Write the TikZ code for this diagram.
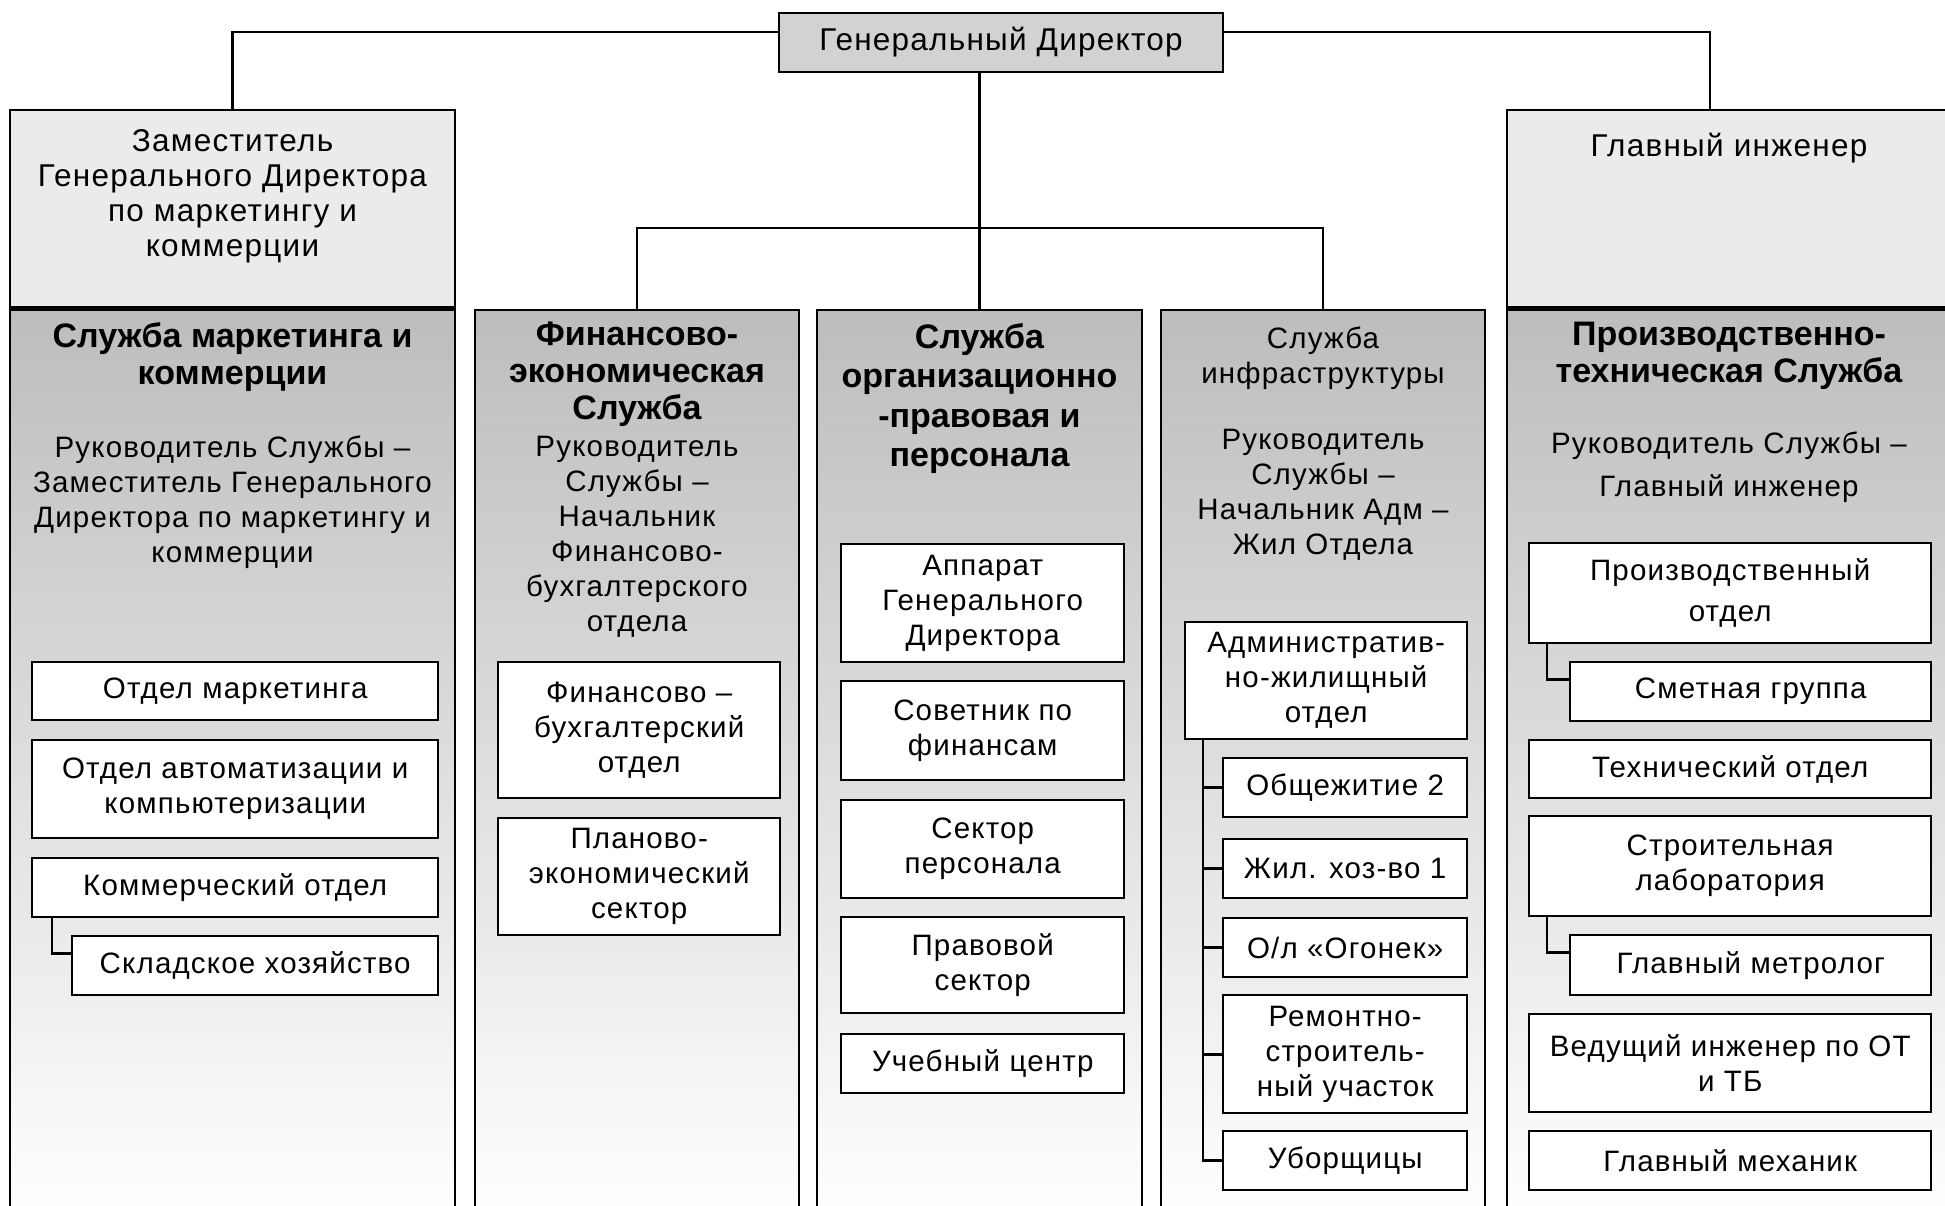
\documentclass[tikz,border=0pt]{standalone}
\usepackage{fontspec}
\setmainfont{Liberation Sans}
\newfontfamily\regfam{Liberation Sans}[LetterSpace=4]
\usetikzlibrary{positioning, calc}

\newcommand\regfont{\regfam\fontsize{29.5}{35}\selectfont}
\newcommand\bigregfont{\regfam\fontsize{31.5}{35}\selectfont}
\newcommand\headfont{\fontsize{34}{37}\selectfont\bfseries}

\begin{document}
\begin{tikzpicture}[x=1pt, y=-1pt,
  gdbox/.style={draw, line width=2.6pt, fill=gray!35, minimum width=444, minimum height=59, font=\bigregfont, inner sep=0pt},
  chiefbox/.style={draw, line width=2.4pt, fill=gray!16, anchor=north, minimum height=197, inner sep=0pt},
  column/.style={draw, line width=2pt, top color=gray!52, bottom color=white, anchor=north, minimum height=910, inner sep=0pt},
  headtext/.style={align=center, font=\headfont, anchor=north, inner sep=0pt},
  leadtext/.style={align=center, font=\regfont, anchor=north, inner sep=0pt},
  unitbox/.style={draw, line width=2.4pt, fill=white, align=center, font=\regfont, anchor=north west, inner sep=2pt},
  link/.style={line width=2.8pt}
]
\useasboundingbox (0,0) rectangle (1945,1205);
\clip (0,0) rectangle (1945,1205);
\fill[white] (0,0) rectangle (1945,1205);

% director
\node[gdbox] (gd) at (1001,42.5) {Генеральный Директор};

% service columns
\node[column, minimum width=445] (mark) at (232.5,306) {};
\node[column, minimum width=324] (fin) at (637,309) {};
\node[column, minimum width=325] (org) at (979.5,309) {};
\node[column, minimum width=324] (infra) at (1323,309) {};
\node[column, minimum width=444] (prod) at (1729,306) {};

% deputies
\node[chiefbox, minimum width=445] (zam) at (232.5,109) {};
\node[chiefbox, minimum width=444] (glav) at (1729,109) {};
\draw[line width=4.5pt] (zam.south west) -- (zam.south east);
\draw[line width=4.5pt] (glav.south west) -- (glav.south east);
\node[leadtext, font=\bigregfont] (zamtxt) at (232.5,129) {Заместитель\\Генерального Директора\\по маркетингу и\\коммерции};
\node[leadtext, font=\bigregfont] (glavtxt) at (1729,133) {Главный инженер};

% links from the director
\draw[link] ($(gd.north west)!0.33!(gd.south west)$) -| (zam.north);
\draw[link] ($(gd.north east)!0.33!(gd.south east)$) -| ($(glav.north)+(-19,0)$);
\draw[link] (gd.south -| org.north) -- (org.north);
\draw[link] (fin.north) -- ++(0,-81) -| (infra.north);

% column headings
\node[headtext] (marktit) at (232.5,322) {Служба маркетинга и\\коммерции};
\node[leadtext] (marklead) at (232.5,436) {Руководитель Службы –\\Заместитель Генерального\\Директора по маркетингу и\\коммерции};
\node[headtext] (fintit) at (637,322) {Финансово-\\экономическая\\Служба};
\node[leadtext] (finlead) at (637,436) {Руководитель\\Службы –\\Начальник\\Финансово-\\бухгалтерского\\отдела};
\node[headtext, font=\fontsize{34}{39.5}\selectfont\bfseries] (orgtit) at (979.5,323) {Служба\\организационно\\-правовая и\\персонала};
\node[leadtext] (infratit) at (1323,327) {Служба\\инфраструктуры};
\node[leadtext] (infralead) at (1323,429) {Руководитель\\Службы –\\Начальник Адм –\\Жил Отдела};
\node[headtext] (prodtit) at (1729,322) {Производственно-\\техническая Служба};
\node[leadtext] (prodlead) at (1729,432) {Руководитель Службы –\\[8pt]Главный инженер};

% marketing units
\node[unitbox, minimum width=406, minimum height=58] (marktg) at (31,661) {Отдел маркетинга};
\node[unitbox, minimum width=406, minimum height=98] (avtom) at (31,739) {Отдел автоматизации и\\компьютеризации};
\node[unitbox, minimum width=406, minimum height=59] (komm) at (31,857) {Коммерческий отдел};
\node[unitbox, minimum width=366, minimum height=59] (sklad) at (71,935) {Складское хозяйство};
\draw[link] ($(komm.south west)+(21,0)$) |- ($(sklad.north west)!0.3!(sklad.south west)$);

% finance units
\node[unitbox, minimum width=282, minimum height=136] (fbo) at (497,661) {Финансово –\\бухгалтерский\\отдел};
\node[unitbox, minimum width=282, minimum height=117] (pes) at (497,817) {Планово-\\экономический\\сектор};

% organisation units
\node[unitbox, minimum width=283, minimum height=118] (appar) at (840,543) {Аппарат\\Генерального\\Директора};
\node[unitbox, minimum width=283, minimum height=99] (sovet) at (840,680) {Советник по\\финансам};
\node[unitbox, minimum width=283, minimum height=98] (kadr) at (840,799) {Сектор\\персонала};
\node[unitbox, minimum width=283, minimum height=96] (pravo) at (840,916) {Правовой\\сектор};
\node[unitbox, minimum width=283, minimum height=59] (ucheb) at (840,1033) {Учебный центр};

% infrastructure units
\node[unitbox, minimum width=282, minimum height=117] (adm) at (1184,621) {Административ-\\но-жилищный\\отдел};
\node[unitbox, minimum width=244, minimum height=59] (obsh) at (1222,757) {Общежитие 2};
\node[unitbox, minimum width=244, minimum height=59] (zhil) at (1222,838) {Жил. хоз-во 1};
\node[unitbox, minimum width=244, minimum height=59] (ogon) at (1222,917) {О/л «Огонек»};
\node[unitbox, minimum width=244, minimum height=118] (remont) at (1222,994) {Ремонтно-\\строитель-\\ный участок};
\node[unitbox, minimum width=244, minimum height=59] (ubor) at (1222,1130) {Уборщицы};
\draw[link] ($(adm.south west)+(19,0)$) |- (ubor.west);
\foreach \n in {obsh, zhil, ogon, remont}
  \draw[link] (\n.west) -- ++(-19,0);

% production units
\node[unitbox, minimum width=402, minimum height=100] (proiz) at (1528,542) {Производственный\\[6pt]отдел};
\node[unitbox, minimum width=361, minimum height=59] (smeta) at (1569,661) {Сметная группа};
\node[unitbox, minimum width=402, minimum height=58] (tekh) at (1528,739) {Технический отдел};
\node[unitbox, minimum width=402, minimum height=100] (stroy) at (1528,815) {Строительная\\лаборатория};
\node[unitbox, minimum width=361, minimum height=60] (metr) at (1569,934) {Главный метролог};
\node[unitbox, minimum width=402, minimum height=98] (vedush) at (1528,1013) {Ведущий инженер по ОТ\\и ТБ};
\node[unitbox, minimum width=402, minimum height=59] (mekh) at (1528,1130) {Главный механик};
\draw[link] ($(proiz.south west)+(19,0)$) |- ($(smeta.north west)!0.3!(smeta.south west)$);
\draw[link] ($(stroy.south west)+(19,0)$) |- ($(metr.north west)!0.3!(metr.south west)$);
\end{tikzpicture}
\end{document}
